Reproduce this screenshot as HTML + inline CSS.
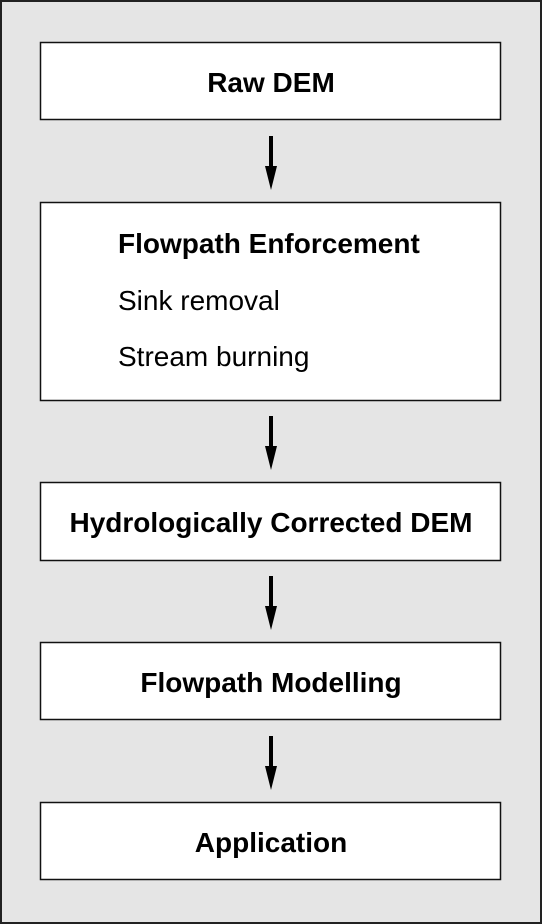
<!DOCTYPE html>
<html><head><meta charset="utf-8"><style>
html,body{margin:0;padding:0;background:#fff}
svg{display:block}
text{font-family:"Liberation Sans",Arial,sans-serif;font-size:28px;fill:#000}
.b{font-weight:bold}
</style></head><body>
<svg width="542" height="924" viewBox="0 0 542 924" xmlns="http://www.w3.org/2000/svg">
<rect x="1" y="1" width="540" height="922" fill="#e5e5e5" stroke="#222" stroke-width="2"/>
<g fill="#fff" stroke="#111" stroke-width="1.5">
<rect x="40.5" y="42.5" width="460" height="77"/>
<rect x="40.5" y="202.5" width="460" height="198"/>
<rect x="40.5" y="482.5" width="460" height="78"/>
<rect x="40.5" y="642.5" width="460" height="77"/>
<rect x="40.5" y="802.5" width="460" height="77"/>
</g>
<g fill="#000">
<rect x="269" y="136" width="4" height="38"/><polygon points="265,166 277,166 271,190"/>
<rect x="269" y="416" width="4" height="38"/><polygon points="265,446 277,446 271,470"/>
<rect x="269" y="576" width="4" height="38"/><polygon points="265,606 277,606 271,630"/>
<rect x="269" y="736" width="4" height="38"/><polygon points="265,766 277,766 271,790"/>
</g>
<text class="b" x="271" y="92" text-anchor="middle">Raw DEM</text>
<text class="b" x="118" y="253">Flowpath Enforcement</text>
<text x="118" y="310">Sink removal</text>
<text x="118" y="366">Stream burning</text>
<text class="b" x="271" y="532" text-anchor="middle">Hydrologically Corrected DEM</text>
<text class="b" x="271" y="692" text-anchor="middle">Flowpath Modelling</text>
<text class="b" x="271" y="852" text-anchor="middle">Application</text>
</svg>
</body></html>
